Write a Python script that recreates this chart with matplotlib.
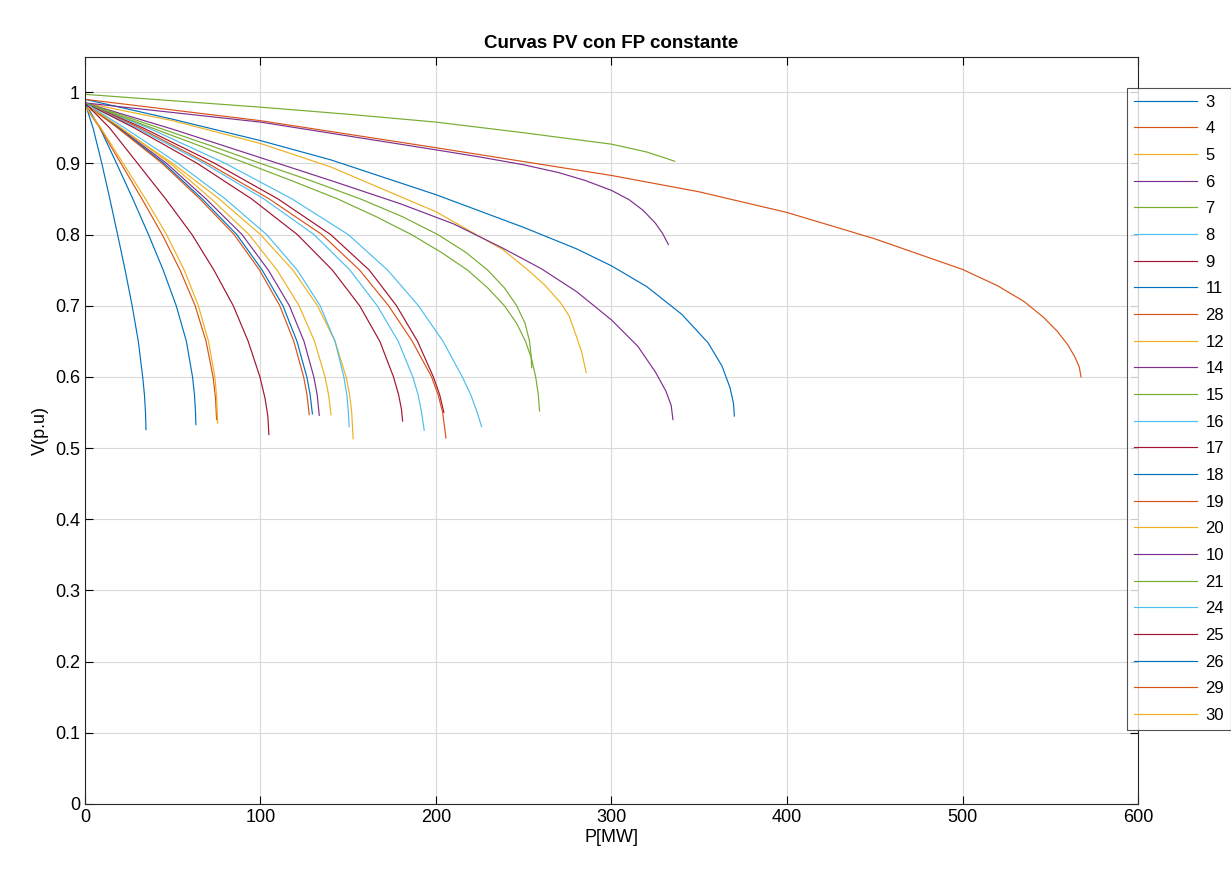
import matplotlib
matplotlib.use("Agg")
import matplotlib.pyplot as plt
from matplotlib.ticker import FormatStrFormatter

plt.rcParams['font.family'] = ['Liberation Sans', 'DejaVu Sans']

# MATLAB default color order
matlab_colors = ['#0072BD', '#D95319', '#EDB120', '#7E2F8E', '#77AC30', '#4DBEEE', '#A2142F']

# bus labels in legend order
buses = ['3', '4', '5', '6', '7', '8', '9', '11', '28', '12', '14', '15',
         '16', '17', '18', '19', '20', '10', '21', '24', '25', '26', '29', '30']

# P [MW] and V [p.u], one pair of lists per bus
p_3 = [0, 50, 100, 140, 200, 250, 280, 300, 320, 340, 355, 363, 367.5, 369.5, 370]
v_3 = [0.99, 0.962, 0.932, 0.905, 0.856, 0.81, 0.78, 0.756, 0.727, 0.688, 0.648, 0.615, 0.585, 0.563, 0.545]

p_4 = [0, 50, 100, 200, 300, 350, 400, 450, 500, 520, 535, 546, 554, 560, 564, 566.5, 567.5]
v_4 = [0.99, 0.975, 0.96, 0.922, 0.883, 0.86, 0.831, 0.794, 0.751, 0.728, 0.706, 0.684,
       0.664, 0.645, 0.628, 0.614, 0.6]

p_5 = [0, 50, 100, 140, 200, 238, 252, 262, 271, 276, 280, 283, 285.6]
v_5 = [0.985, 0.96, 0.928, 0.895, 0.832, 0.779, 0.751, 0.729, 0.704, 0.685, 0.657, 0.635, 0.606]

p_6 = [0, 100, 200, 225, 250, 270, 285, 300, 310, 318, 325, 329, 332.4]
v_6 = [0.985, 0.958, 0.919, 0.909, 0.898, 0.887, 0.876, 0.862, 0.849, 0.834, 0.816, 0.802, 0.786]

p_7 = [0, 100, 150, 200, 250, 300, 320, 330, 336]
v_7 = [0.997, 0.979, 0.969, 0.958, 0.943, 0.927, 0.916, 0.908, 0.903]

p_8 = [0, 36, 80, 118, 150, 172.5, 190, 204, 215, 219.8, 223.5, 226]
v_8 = [0.985, 0.95, 0.9, 0.85, 0.8, 0.75, 0.7, 0.65, 0.6, 0.575, 0.55, 0.53]

p_9 = [0, 33, 74, 110, 140, 162, 177.5, 189.5, 198.5, 202.1, 204.5]
v_9 = [0.985, 0.95, 0.9, 0.85, 0.8, 0.75, 0.7, 0.65, 0.6, 0.575, 0.55]

p_11 = [0, 8.5, 18, 27.3, 36.2, 44.6, 52, 57.8, 61.3, 62.4, 63.0, 63.2]
v_11 = [0.985, 0.95, 0.9, 0.85, 0.8, 0.75, 0.7, 0.65, 0.6, 0.575, 0.55, 0.533]

p_28 = [0, 31, 70, 105, 135, 156.5, 173, 186.5, 197.5, 201.2, 203.8, 205.7]
v_28 = [0.985, 0.95, 0.9, 0.85, 0.8, 0.75, 0.7, 0.65, 0.6, 0.575, 0.55, 0.514]

p_12 = [0, 20, 50, 76.5, 100, 118.5, 132.5, 142.5, 148.8, 150.8, 152, 152.8]
v_12 = [0.98, 0.95, 0.9, 0.85, 0.8, 0.75, 0.7, 0.65, 0.6, 0.575, 0.55, 0.513]

p_14 = [0, 19.5, 46.5, 69, 89.5, 104.5, 116.5, 124.8, 130.4, 132.3, 133.5]
v_14 = [0.985, 0.95, 0.9, 0.85, 0.8, 0.75, 0.7, 0.65, 0.6, 0.575, 0.546]

p_15 = [0, 38, 92, 118.5, 144, 166, 186, 203, 218, 229.5, 239, 246, 251, 254.5,
        256.8, 258.3, 259]
v_15 = [0.985, 0.95, 0.9, 0.875, 0.85, 0.825, 0.8, 0.775, 0.75, 0.725, 0.7, 0.675,
        0.65, 0.625, 0.6, 0.575, 0.552]

p_16 = [0, 29.5, 68, 102, 130.5, 151, 166.5, 178.5, 186.8, 189.8, 191.8, 193.3]
v_16 = [0.985, 0.95, 0.9, 0.85, 0.8, 0.75, 0.7, 0.65, 0.6, 0.575, 0.55, 0.525]

p_17 = [0, 28, 64, 95, 121, 141, 156.5, 168, 175.8, 178.7, 180.3, 181]
v_17 = [0.985, 0.95, 0.9, 0.85, 0.8, 0.75, 0.7, 0.65, 0.6, 0.575, 0.555, 0.538]

p_18 = [0, 19, 45, 66.8, 86.5, 101, 112.8, 120.8, 126.4, 128.3, 129.6]
v_18 = [0.985, 0.95, 0.9, 0.85, 0.8, 0.75, 0.7, 0.65, 0.6, 0.575, 0.548]

p_19 = [0, 18.5, 44, 65.5, 85, 99.5, 111, 119, 124.6, 126.5, 127.8]
v_19 = [0.985, 0.95, 0.9, 0.85, 0.8, 0.75, 0.7, 0.65, 0.6, 0.575, 0.547]

p_20 = [0, 20.5, 48.5, 72, 93.5, 109.5, 122, 130.8, 136.8, 138.8, 140.2]
v_20 = [0.985, 0.95, 0.9, 0.85, 0.8, 0.75, 0.7, 0.65, 0.6, 0.575, 0.547]

p_10 = [0, 50, 100, 140, 180, 210, 238, 260, 280, 300, 315, 325, 331, 334, 335]
v_10 = [0.985, 0.948, 0.908, 0.876, 0.843, 0.815, 0.781, 0.752, 0.72, 0.68, 0.643,
        0.607, 0.58, 0.56, 0.54]

p_21 = [0, 42, 71.5, 100, 129.5, 157, 181, 201, 217, 229.5, 239, 246, 250.8, 253.3,
        254.2, 254.5]
v_21 = [0.985, 0.95, 0.925, 0.9, 0.875, 0.85, 0.825, 0.8, 0.775, 0.75, 0.725, 0.7,
        0.675, 0.65, 0.63, 0.613]

p_24 = [0, 22.5, 53, 80, 103.5, 121, 134, 142.5, 147.5, 149.2, 150.1, 150.5]
v_24 = [0.985, 0.95, 0.9, 0.85, 0.8, 0.75, 0.7, 0.65, 0.6, 0.575, 0.55, 0.53]

p_25 = [0, 14, 30, 46, 61, 73.5, 84.5, 93, 99.7, 102.6, 104.2, 104.8]
v_25 = [0.985, 0.95, 0.9, 0.85, 0.8, 0.75, 0.7, 0.65, 0.6, 0.57, 0.545, 0.519]

p_26 = [0, 4.6, 9.6, 14.2, 18.6, 22.9, 26.9, 30.4, 32.9, 33.9, 34.5, 34.8]
v_26 = [0.985, 0.95, 0.9, 0.85, 0.8, 0.75, 0.7, 0.65, 0.6, 0.575, 0.55, 0.526]

p_29 = [0, 8.5, 20.5, 32.5, 44, 54.2, 62.8, 69, 73, 74.4, 75]
v_29 = [0.98, 0.95, 0.9, 0.85, 0.8, 0.75, 0.7, 0.65, 0.6, 0.57, 0.54]

p_30 = [0, 9, 21.8, 34.5, 46.5, 56.6, 64.6, 70.4, 74, 75.1, 75.6]
v_30 = [0.98, 0.95, 0.9, 0.85, 0.8, 0.75, 0.7, 0.65, 0.6, 0.57, 0.535]

curves = [(p_3, v_3), (p_4, v_4), (p_5, v_5), (p_6, v_6), (p_7, v_7), (p_8, v_8),
          (p_9, v_9), (p_11, v_11), (p_28, v_28), (p_12, v_12), (p_14, v_14),
          (p_15, v_15), (p_16, v_16), (p_17, v_17), (p_18, v_18), (p_19, v_19),
          (p_20, v_20), (p_10, v_10), (p_21, v_21), (p_24, v_24), (p_25, v_25),
          (p_26, v_26), (p_29, v_29), (p_30, v_30)]

fig = plt.figure(figsize=(12.31, 8.71), dpi=100)
ax = fig.add_axes([0.069, 0.077, 0.8555, 0.858])

for i, (p, v) in enumerate(curves):
    ax.plot(p, v, color=matlab_colors[i % 7], linewidth=0.85, label=buses[i])

ax.set_xlim(0, 600)
ax.set_ylim(0, 1.05)
ax.set_xticks(range(0, 601, 100))
ax.set_yticks([i / 10 for i in range(11)])
ax.yaxis.set_major_formatter(FormatStrFormatter('%g'))
ax.tick_params(direction='in', top=True, right=True, labelsize=13, length=6, width=0.8)
ax.grid(True, color='#d9d9d9', linewidth=0.8)
ax.set_axisbelow(True)
for s in ax.spines.values():
    s.set_linewidth(0.8)
    s.set_color('#262626')

ax.set_title('Curvas PV con FP constante', fontsize=13.5, fontweight='bold', pad=6)
ax.set_xlabel('P[MW]', fontsize=13, labelpad=2)
ax.set_ylabel('V(p.u)', fontsize=13, labelpad=4)

leg = fig.legend(loc='upper left', bbox_to_anchor=(0.9155, 0.899), fontsize=12,
                 frameon=True, fancybox=False, handlelength=3.8, handletextpad=0.5,
                 labelspacing=0.70, borderpad=0.4, borderaxespad=0.0)
leg.get_frame().set_edgecolor('#262626')
leg.get_frame().set_linewidth(0.8)

fig.savefig('out.png', dpi=100)
